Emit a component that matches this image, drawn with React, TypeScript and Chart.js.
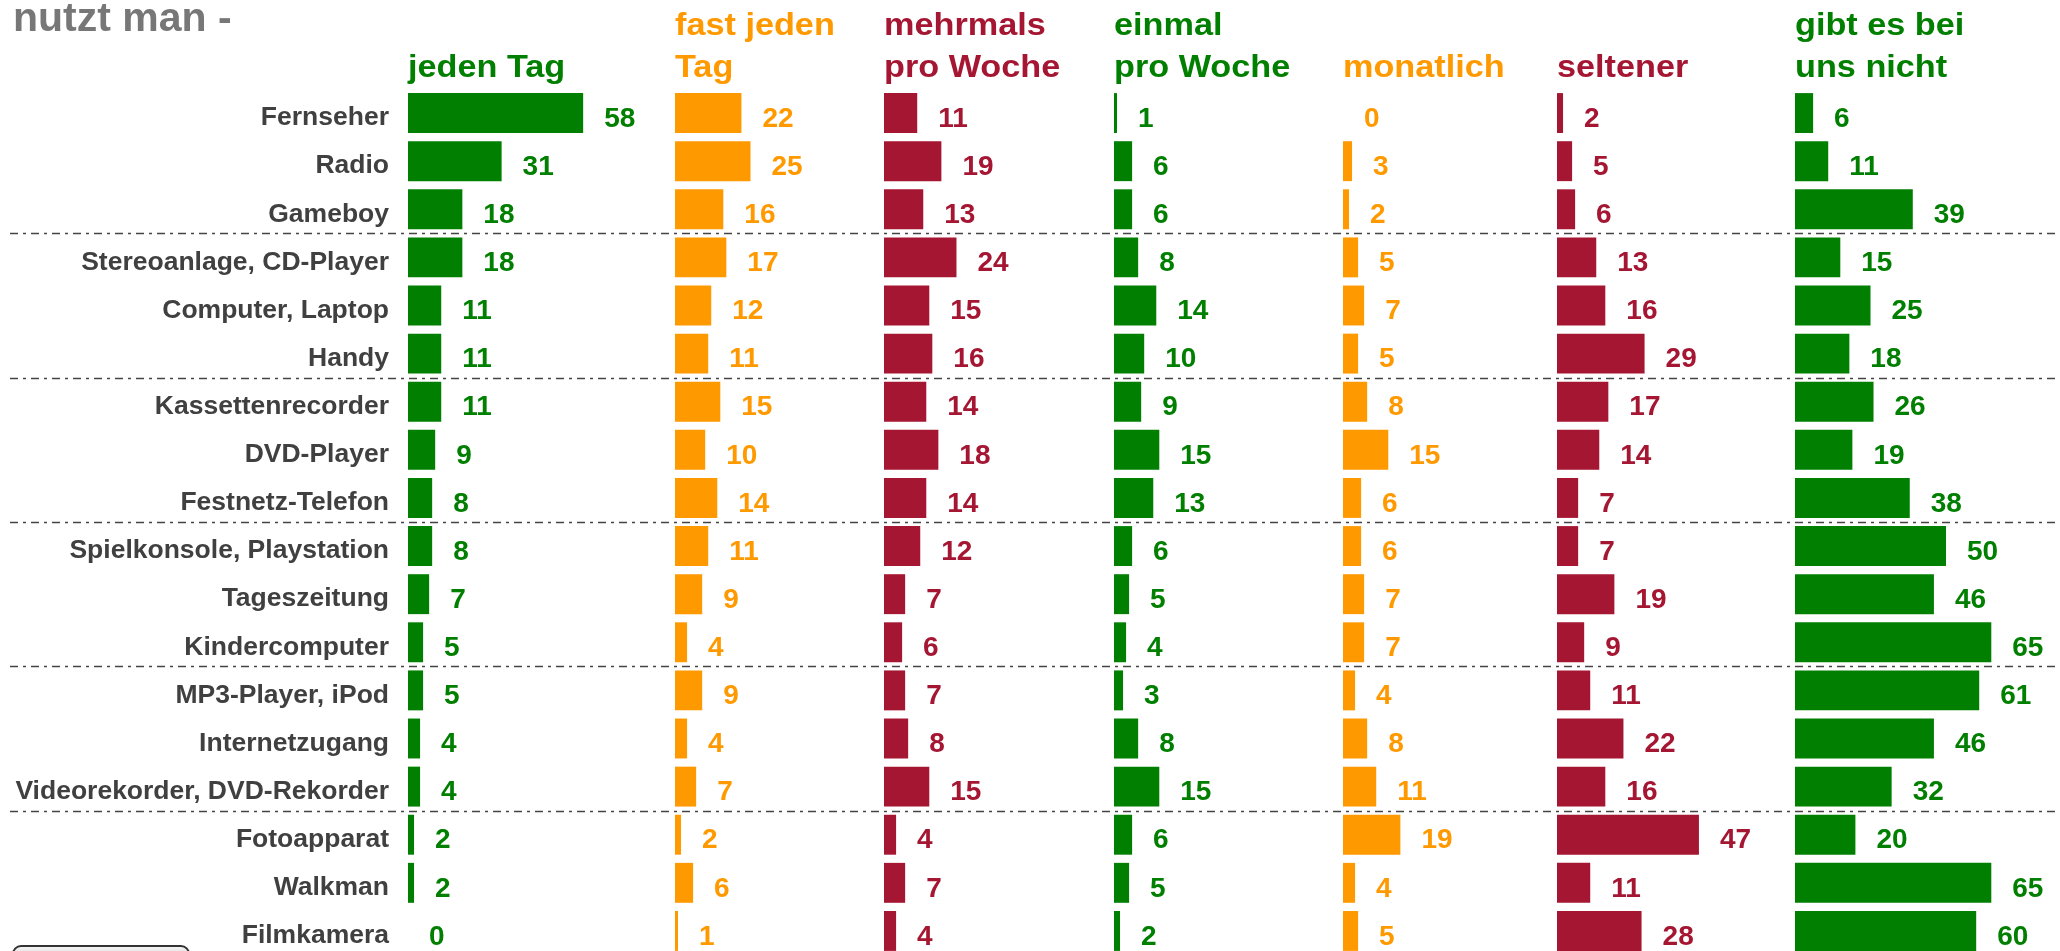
import React, { useEffect, useRef } from 'react';
import { Chart, registerables } from 'chart.js';

Chart.register(...registerables);

const categories = [
  'Fernseher',
  'Radio',
  'Gameboy',
  'Stereoanlage, CD-Player',
  'Computer, Laptop',
  'Handy',
  'Kassettenrecorder',
  'DVD-Player',
  'Festnetz-Telefon',
  'Spielkonsole, Playstation',
  'Tageszeitung',
  'Kindercomputer',
  'MP3-Player, iPod',
  'Internetzugang',
  'Videorekorder, DVD-Rekorder',
  'Fotoapparat',
  'Walkman',
  'Filmkamera',
];

const jedenTag = [58, 31, 18, 18, 11, 11, 11, 9, 8, 8, 7, 5, 5, 4, 4, 2, 2, 0];
const fastJedenTag = [22, 25, 16, 17, 12, 11, 15, 10, 14, 11, 9, 4, 9, 4, 7, 2, 6, 1];
const mehrmalsProWoche = [11, 19, 13, 24, 15, 16, 14, 18, 14, 12, 7, 6, 7, 8, 15, 4, 7, 4];
const einmalProWoche = [1, 6, 6, 8, 14, 10, 9, 15, 13, 6, 5, 4, 3, 8, 15, 6, 5, 2];
const monatlich = [0, 3, 2, 5, 7, 5, 8, 15, 6, 6, 7, 7, 4, 8, 11, 19, 4, 5];
const seltener = [2, 5, 6, 13, 16, 29, 17, 14, 7, 7, 19, 9, 11, 22, 16, 47, 11, 28];
const gibtEsNicht = [6, 11, 39, 15, 25, 18, 26, 19, 38, 50, 46, 65, 61, 46, 32, 20, 65, 60];

const seriesHeaders = [
  ['jeden Tag'],
  ['fast jeden', 'Tag'],
  ['mehrmals', 'pro Woche'],
  ['einmal', 'pro Woche'],
  ['monatlich'],
  ['seltener'],
  ['gibt es bei', 'uns nicht'],
];
const seriesValues = [jedenTag, fastJedenTag, mehrmalsProWoche, einmalProWoche, monatlich, seltener, gibtEsNicht];

const GREEN = '#007f00';
const ORANGE = '#ff9900';
const CRIMSON = '#a51632';
const seriesColors = [GREEN, ORANGE, CRIMSON, GREEN, ORANGE, CRIMSON, GREEN];

const titleText = 'nutzt man -';
const groupBreaks = [3, 6, 9, 12, 15];

// layout constants
const W = 2060;
const H = 1000;
const PLOT_LEFT = 408;
const PLOT_TOP = 89;
const PLOT_BOTTOM_PAD = 45;
const COL_STARTS = [408, 675, 884, 1114, 1343, 1557, 1795];
const PX_PER_UNIT = 3.02;
const FONT = "'Liberation Sans', Arial, sans-serif";

const overlayPlugin = {
  id: 'overlay',
  afterDatasetsDraw(chart: any) {
    const ctx = chart.ctx as CanvasRenderingContext2D;
    const yScale = chart.scales.y;
    ctx.save();

    // group dividers
    ctx.strokeStyle = '#444444';
    ctx.lineWidth = 1.5;
    ctx.setLineDash([8, 5, 3, 5]);
    groupBreaks.forEach((b) => {
      const y = Math.round((yScale.getPixelForValue(b - 1) + yScale.getPixelForValue(b)) / 2) + 0.5;
      ctx.beginPath();
      ctx.moveTo(10, y);
      ctx.lineTo(W, y);
      ctx.stroke();
    });
    ctx.setLineDash([]);

    // value labels
    ctx.font = `bold 28px ${FONT}`;
    ctx.textAlign = 'left';
    ctx.textBaseline = 'middle';
    chart.data.datasets.forEach((ds: any, di: number) => {
      const meta = chart.getDatasetMeta(di);
      ctx.fillStyle = seriesColors[di];
      meta.data.forEach((el: any, i: number) => {
        ctx.fillText(String(ds.data[i]), el.x + 21, el.y + 6);
      });
    });

    // headers
    ctx.textBaseline = 'alphabetic';
    ctx.font = `bold 32px ${FONT}`;
    seriesHeaders.forEach((lines, di) => {
      const xs = chart.scales['x' + di];
      const x = xs.getPixelForValue(0);
      ctx.fillStyle = seriesColors[di];
      const baselines = lines.length === 2 ? [35, 77] : [77];
      lines.forEach((t, li) => {
        ctx.save();
        ctx.translate(x, baselines[li]);
        ctx.scale(1.07, 1);
        ctx.fillText(t, 0, 0);
        ctx.restore();
      });
    });

    // title
    ctx.font = `bold 41px ${FONT}`;
    ctx.fillStyle = '#777777';
    ctx.fillText(titleText, 13, 31);

    ctx.restore();
  },
};

export default function App() {
  const ref = useRef<HTMLCanvasElement | null>(null);

  useEffect(() => {
    const canvas = ref.current;
    if (!canvas) return;
    const plotWidth = W - PLOT_LEFT;
    const scales: any = {
      y: {
        type: 'category',
        position: 'left',
        afterFit: (s: any) => {
          s.width = PLOT_LEFT;
        },
        grid: { display: false, drawTicks: false },
        border: { display: false },
        ticks: {
          autoSkip: false,
          padding: 19,
          labelOffset: 5,
          color: '#404040',
          font: { family: FONT, size: 26.5, weight: 'bold' },
        },
      },
    };
    COL_STARTS.forEach((start, i) => {
      const min = -(start - PLOT_LEFT) / PX_PER_UNIT;
      scales['x' + i] = {
        type: 'linear',
        position: 'bottom',
        display: false,
        min,
        max: min + plotWidth / PX_PER_UNIT,
        grid: { display: false },
      };
    });

    const chart = new Chart(canvas, {
      type: 'bar',
      data: {
        labels: categories,
        datasets: seriesValues.map((vals, i) => ({
          label: seriesHeaders[i].join(' '),
          data: vals,
          xAxisID: 'x' + i,
          yAxisID: 'y',
          backgroundColor: seriesColors[i],
          borderWidth: 0,
          grouped: false,
          categoryPercentage: 1,
          barPercentage: 0.83,
        })),
      },
      options: {
        indexAxis: 'y',
        animation: false,
        responsive: false,
        devicePixelRatio: 1,
        layout: { padding: { left: 0, right: 0, top: PLOT_TOP, bottom: PLOT_BOTTOM_PAD } },
        plugins: {
          legend: { display: false },
          tooltip: { enabled: false },
          title: { display: false },
        },
        scales,
      } as any,
      plugins: [overlayPlugin],
    });
    return () => chart.destroy();
  }, []);

  return (
    <div style={{ position: 'absolute', left: 0, top: 0, width: W, height: 951, overflow: 'hidden', background: '#fff' }}>
      <canvas ref={ref} width={W} height={H} style={{ width: W, height: H, display: 'block' }} />
      <div
        style={{
          position: 'absolute',
          left: 12,
          top: 945,
          width: 178,
          height: 24,
          borderRadius: 9,
          border: '2px solid #333',
          background: 'linear-gradient(#f4f4f4, #bdbdbd)',
          boxSizing: 'border-box',
        }}
      />
    </div>
  );
}
